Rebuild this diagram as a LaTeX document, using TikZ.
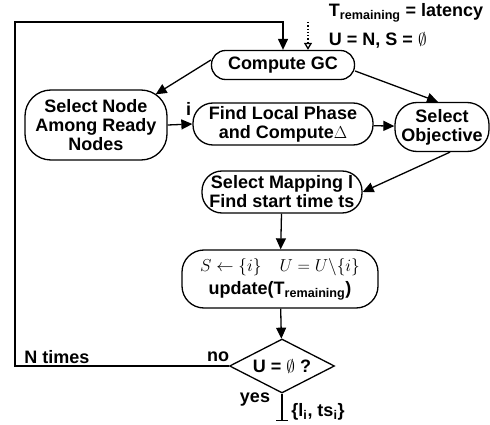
\documentclass[tikz,border=0pt]{standalone}
\usepackage{fontspec}
\setmainfont{Liberation Sans}
\usepackage{amssymb}
\usetikzlibrary{positioning, calc, shapes.geometric, arrows.meta}

\begin{document}
\begin{tikzpicture}[x=1pt, y=-1pt, line width=1.3pt,
    font=\fontsize{18}{19}\selectfont\bfseries,
    box/.style={draw, rounded corners=20pt, align=center, inner sep=0pt},
    arr/.style={-{Triangle[length=11pt,width=10pt]}}]
  \useasboundingbox (0,0) rectangle (490,425);
  % Kasten
  \node[box, rounded corners=14pt, minimum width=143pt, minimum height=29pt] (gc) at (283,65) {Compute GC};
  \node[box, rounded corners=26pt, minimum width=142pt, minimum height=70pt] (sel) at (96,125) {Select Node\\Among Ready\\Nodes};
  \node[box, minimum width=180pt, minimum height=42pt] (find) at (283,124) {Find Local Phase\\and Compute$\Delta$};
  \node[box, rounded corners=22pt, minimum width=94pt, minimum height=49pt] (obj) at (442,127) {Select\\Objective};
  \node[box, minimum width=160pt, minimum height=42pt] (map) at (282,192) {Select Mapping l\\Find start time ts};
  \node[box, rounded corners=22pt, minimum width=196pt, minimum height=58pt] (upd) at (280,279) {$S \leftarrow \{i\}\quad U = U\backslash\{i\}$\\[4pt]update(T\textsubscript{remaining})};
  \node[draw, diamond, aspect=2, inner sep=0pt, minimum width=105pt, minimum height=54pt] (test) at (282,366) {U = $\emptyset$ ?};
  % Hilfspunkte
  \coordinate (lp) at (15,22);
  \coordinate (init) at (308,22);
  \coordinate (out) at (282,421);
  % Pfeile
  \draw[arr] ([yshift=5pt]gc.west) -- ([xshift=-12pt,yshift=-5pt]sel.north east);
  \draw[arr] ([yshift=-6pt]gc.east) -- ([xshift=-4pt]obj.north);
  \draw[arr] (sel.east) -- (find.west) node[pos=0.85, above=5pt] (lbi) {i};
  \foreach \a/\b in {find/obj, map/upd, upd/test} {
    \draw[arr] (\a) -- (\b);
  }
  \draw[arr] ([xshift=8pt]obj.south) -- (map.east);
  \draw[arr] (test.west) -| (lp) -| (gc.north);
  \draw[dotted, -{Triangle[open,length=7pt,width=8pt]}] (init) -- (init |- gc.north);
  \draw[-{Bar[width=12pt]}] (test.south) -- (out);
  % Beschriftungen
  \node[anchor=west] (tr) at (325,13) {T\textsubscript{remaining} = latency};
  \node[anchor=west] (un) at (325,40) {U = N, S = $\emptyset$};
  \node (no) at (218,357) {no};
  \node (nt) at (57,357) {N times};
  \node (yes) at (255,400) {yes};
  \node (res) at (318,412) {\{l\textsubscript{i}, ts\textsubscript{i}\}};
\end{tikzpicture}
\end{document}
